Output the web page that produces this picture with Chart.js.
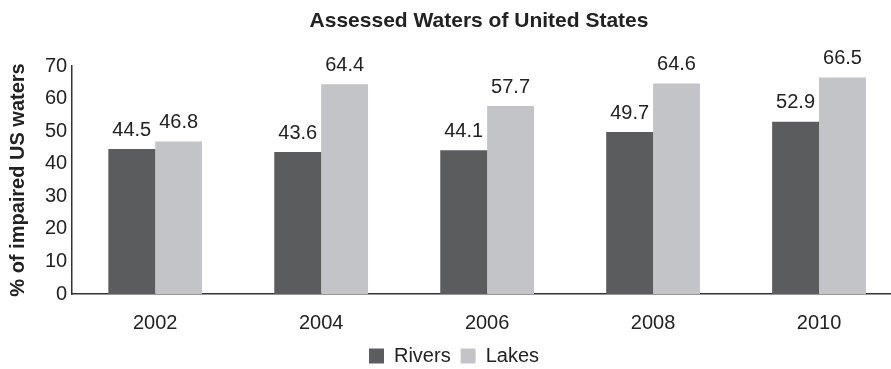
<!DOCTYPE html>
<html>
<head>
<meta charset="utf-8">
<script src="https://cdn.jsdelivr.net/npm/chart.js@4/dist/chart.umd.min.js"></script>
<style>
html,body{margin:0;padding:0;background:#fff;overflow:hidden;}
#wrap{position:relative;width:902px;height:369px;}
</style>
</head>
<body>
<div id="wrap"><canvas id="c"></canvas></div>
<script>
const categories = ["2002", "2004", "2006", "2008", "2010"];
const rivers = [44.5, 43.6, 44.1, 49.7, 52.9];
const lakes = [46.8, 64.4, 57.7, 64.6, 66.5];
const seriesNames = ["Rivers", "Lakes"];
const chartTitle = "Assessed Waters of United States";
const yTitle = "% of impaired US waters";

const FONT = "'Liberation Sans', Arial, Helvetica, sans-serif";

const labelPlugin = {
  id: 'valueLabels',
  afterDatasetsDraw(chart) {
    const ctx = chart.ctx;
    ctx.save();
    ctx.font = "20px " + FONT;
    ctx.fillStyle = "#222";
    ctx.textAlign = "center";
    ctx.textBaseline = "bottom";
    chart.data.datasets.forEach((ds, i) => {
      const meta = chart.getDatasetMeta(i);
      meta.data.forEach((el, j) => {
        ctx.fillText(ds.data[j].toFixed(1), el.x, el.y - 9);
      });
    });
    ctx.restore();
  }
};

const titlePlugin = {
  id: 'centerTitle',
  afterDraw(chart) {
    const ctx = chart.ctx;
    ctx.save();
    ctx.font = "bold 21px " + FONT;
    ctx.fillStyle = "#222";
    ctx.textAlign = "center";
    ctx.textBaseline = "middle";
    ctx.fillText(chartTitle, 479, 21);
    ctx.restore();
  }
};

new Chart(document.getElementById('c'), {
  type: 'bar',
  data: {
    labels: categories,
    datasets: [
      { label: seriesNames[0], data: rivers, backgroundColor: "#5b5c5e", categoryPercentage: 0.565, barPercentage: 1.0 },
      { label: seriesNames[1], data: lakes, backgroundColor: "#c3c4c7", categoryPercentage: 0.565, barPercentage: 1.0 }
    ]
  },
  options: {
    responsive: true,
    maintainAspectRatio: false,
    animation: false,
    layout: { padding: { top: 66, left: 6, right: 0, bottom: -7 } },
    plugins: {
      legend: {
        position: 'bottom',
        labels: {
          font: { family: FONT, size: 20 },
          color: "#222",
          boxWidth: 15,
          boxHeight: 15,
          padding: 10
        }
      },
      title: { display: false },
      tooltip: { enabled: false }
    },
    scales: {
      x: {
        grid: { display: false, drawTicks: false },
        border: { display: true, color: "#333", width: 1.5 },
        ticks: { font: { family: FONT, size: 20 }, color: "#222", padding: 17 },
        afterFit(scale) { scale.height -= 16; }
      },
      y: {
        min: 0, max: 70,
        grid: { display: false, drawTicks: false },
        border: { display: true, color: "#333", width: 1.5 },
        ticks: { stepSize: 10, font: { family: FONT, size: 20 }, color: "#222", padding: 5 },
        title: { display: true, text: yTitle, font: { family: FONT, size: 20, weight: 'bold' }, color: "#222", padding: { top: 0, bottom: 10 } }
      }
    }
  },
  plugins: [labelPlugin, titlePlugin]
});
</script>
</body>
</html>
